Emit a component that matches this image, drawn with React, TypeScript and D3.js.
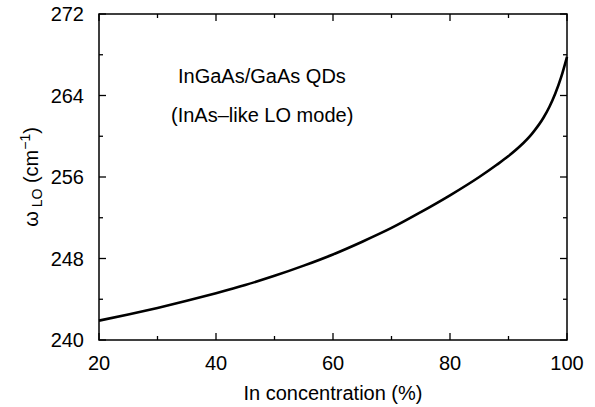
import React from 'react';
import * as d3 from 'd3';

// In concentration (%) vs LO phonon frequency (cm^-1)
const concentration = [20, 25, 30, 35, 40, 45, 50, 55, 60, 65, 70, 75, 80, 85, 88, 90, 92, 94, 96, 97, 98, 99, 100];
const omegaLO = [241.9, 242.5, 243.15, 243.85, 244.6, 245.4, 246.3, 247.3, 248.4, 249.65, 251.0, 252.55, 254.2, 256.0, 257.2, 258.06, 259.04, 260.24, 261.84, 262.9, 264.2, 265.8, 267.8];

const xMajor = [20, 40, 60, 80, 100];
const xMinor = [30, 50, 70, 90];
const yMajor = [240, 248, 256, 264, 272];
const yMinor = [244, 252, 260, 268];

const W = 595;
const H = 407;
const margin = { top: 14, right: 28, bottom: 67, left: 99 };
const font = '"Liberation Sans", Arial, Helvetica, sans-serif';

export default function App() {
  const iw = W - margin.left - margin.right;
  const ih = H - margin.top - margin.bottom;

  const x = d3.scaleLinear().domain([20, 100]).range([0, iw]);
  const y = d3.scaleLinear().domain([240, 272]).range([ih, 0]);

  const pts: [number, number][] = concentration.map((c, i) => [c, omegaLO[i]]);
  const line = d3.line<[number, number]>()
    .x(d => x(d[0]))
    .y(d => y(d[1]))
    .curve(d3.curveMonotoneX);

  const major = 7;
  const minor = 4;

  return (
    <svg width={W} height={H} style={{ position: 'absolute', left: 0, top: 0, background: '#fff' }} fontFamily={font}>
      <g transform={`translate(${margin.left},${margin.top})`}>
        {/* ticks, inward on all four sides */}
        {xMajor.map(v => (
          <g key={'xM' + v} stroke="#000" strokeWidth={1.3}>
            <line x1={x(v)} x2={x(v)} y1={ih} y2={ih - major} />
            <line x1={x(v)} x2={x(v)} y1={0} y2={major} />
          </g>
        ))}
        {xMinor.map(v => (
          <g key={'xm' + v} stroke="#000" strokeWidth={1.3}>
            <line x1={x(v)} x2={x(v)} y1={ih} y2={ih - minor} />
            <line x1={x(v)} x2={x(v)} y1={0} y2={minor} />
          </g>
        ))}
        {yMajor.map(v => (
          <g key={'yM' + v} stroke="#000" strokeWidth={1.3}>
            <line x1={0} x2={major} y1={y(v)} y2={y(v)} />
            <line x1={iw} x2={iw - major} y1={y(v)} y2={y(v)} />
          </g>
        ))}
        {yMinor.map(v => (
          <g key={'ym' + v} stroke="#000" strokeWidth={1.3}>
            <line x1={0} x2={minor} y1={y(v)} y2={y(v)} />
            <line x1={iw} x2={iw - minor} y1={y(v)} y2={y(v)} />
          </g>
        ))}

        <rect x={0} y={0} width={iw} height={ih} fill="none" stroke="#000" strokeWidth={1.5} />

        {xMajor.map(v => (
          <text key={'xl' + v} x={x(v)} y={ih + 30} textAnchor="middle" fontSize={20}>{v}</text>
        ))}
        {yMajor.map(v => (
          <text key={'yl' + v} x={-15} y={y(v) + 7} textAnchor="end" fontSize={20}>{v}</text>
        ))}

        <path d={line(pts) || ''} fill="none" stroke="#000" strokeWidth={2.6} />

        <text x={79} y={69} fontSize={20}>InGaAs/GaAs QDs</text>
        <text x={72} y={108} fontSize={20}>(InAs&#8211;like LO mode)</text>

        <text x={iw / 2} y={ih + 60} textAnchor="middle" fontSize={20}>In concentration (%)</text>
      </g>

      <text transform={`translate(38,${margin.top + ih / 2}) rotate(-90)`} textAnchor="middle" fontSize={20}>
        <tspan>&#969;</tspan>
        <tspan fontSize={14} dy={4}> LO</tspan>
        <tspan dy={-4}> (cm</tspan>
        <tspan fontSize={14} dy={-8}>&#8722;1</tspan>
        <tspan dy={8}>)</tspan>
      </text>
    </svg>
  );
}
